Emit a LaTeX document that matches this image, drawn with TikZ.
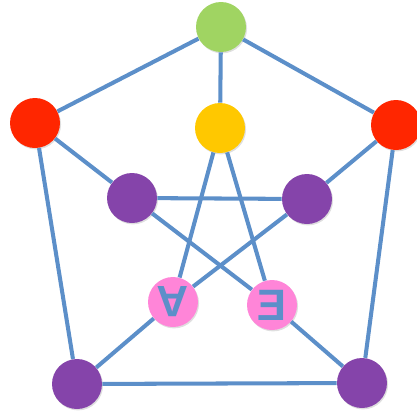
\documentclass[tikz,border=0pt]{standalone}
\usepackage{fontspec}
\usepackage{tikz}
\usetikzlibrary{shadows}
\newfontfamily\lblfont{Liberation Sans}
\definecolor{edgec}{RGB}{92,143,201}
\definecolor{lime}{RGB}{160,212,98}
\definecolor{hotred}{RGB}{255,38,0}
\definecolor{amber}{RGB}{255,200,0}
\definecolor{grape}{RGB}{133,68,170}
\definecolor{candy}{RGB}{255,133,216}
\tikzset{
  vert/.style={circle,fill=#1,minimum size=1cm,inner sep=0pt,
    drop shadow={opacity=0.25,shadow xshift=0.6pt,shadow yshift=-0.8pt}},
  vert/.default=grape,
  qlbl/.style={text=edgec,font=\fontsize{25}{25}\selectfont\lblfont\bfseries},
  link/.style={draw=edgec,line width=2.3pt},
}
\begin{document}
\begin{tikzpicture}[x=0.02cm,y=-0.02cm]
  \useasboundingbox (0,0) rectangle (417,414);
  % outer ring
  \node[vert=lime]   (top) at (221,27)  {};
  \node[vert=hotred] (lr)  at (35,123)  {};
  \node[vert=hotred] (rr)  at (396,125) {};
  \node[vert]        (bl)  at (77,384)  {};
  \node[vert]        (br)  at (362,383) {};
  % inner star
  \node[vert=amber]  (mid) at (220,128) {};
  \node[vert]        (il)  at (132,198) {};
  \node[vert]        (ir)  at (307,199) {};
  \node[vert=candy,qlbl] (qa) at (173,302) {\rotatebox{180}{A}};
  \node[vert=candy,qlbl] (qe) at (272,305) {\reflectbox{E}};

  \draw[link] (top) -- (lr) -- (bl) -- (br) -- (rr) -- (top);
  \draw[link] (top) -- (mid);
  \draw[link] (lr) -- (il);
  \draw[link] (rr) -- (ir);
  \draw[link] (bl) -- (qa);
  \draw[link] (br) -- (qe);
  \draw[link] (mid) -- (qa);
  \draw[link] (mid) -- (qe);
  \draw[link] (il) -- (ir);
  \draw[link] (il) -- (qe);
  \draw[link] (ir) -- (qa);
\end{tikzpicture}
\end{document}
